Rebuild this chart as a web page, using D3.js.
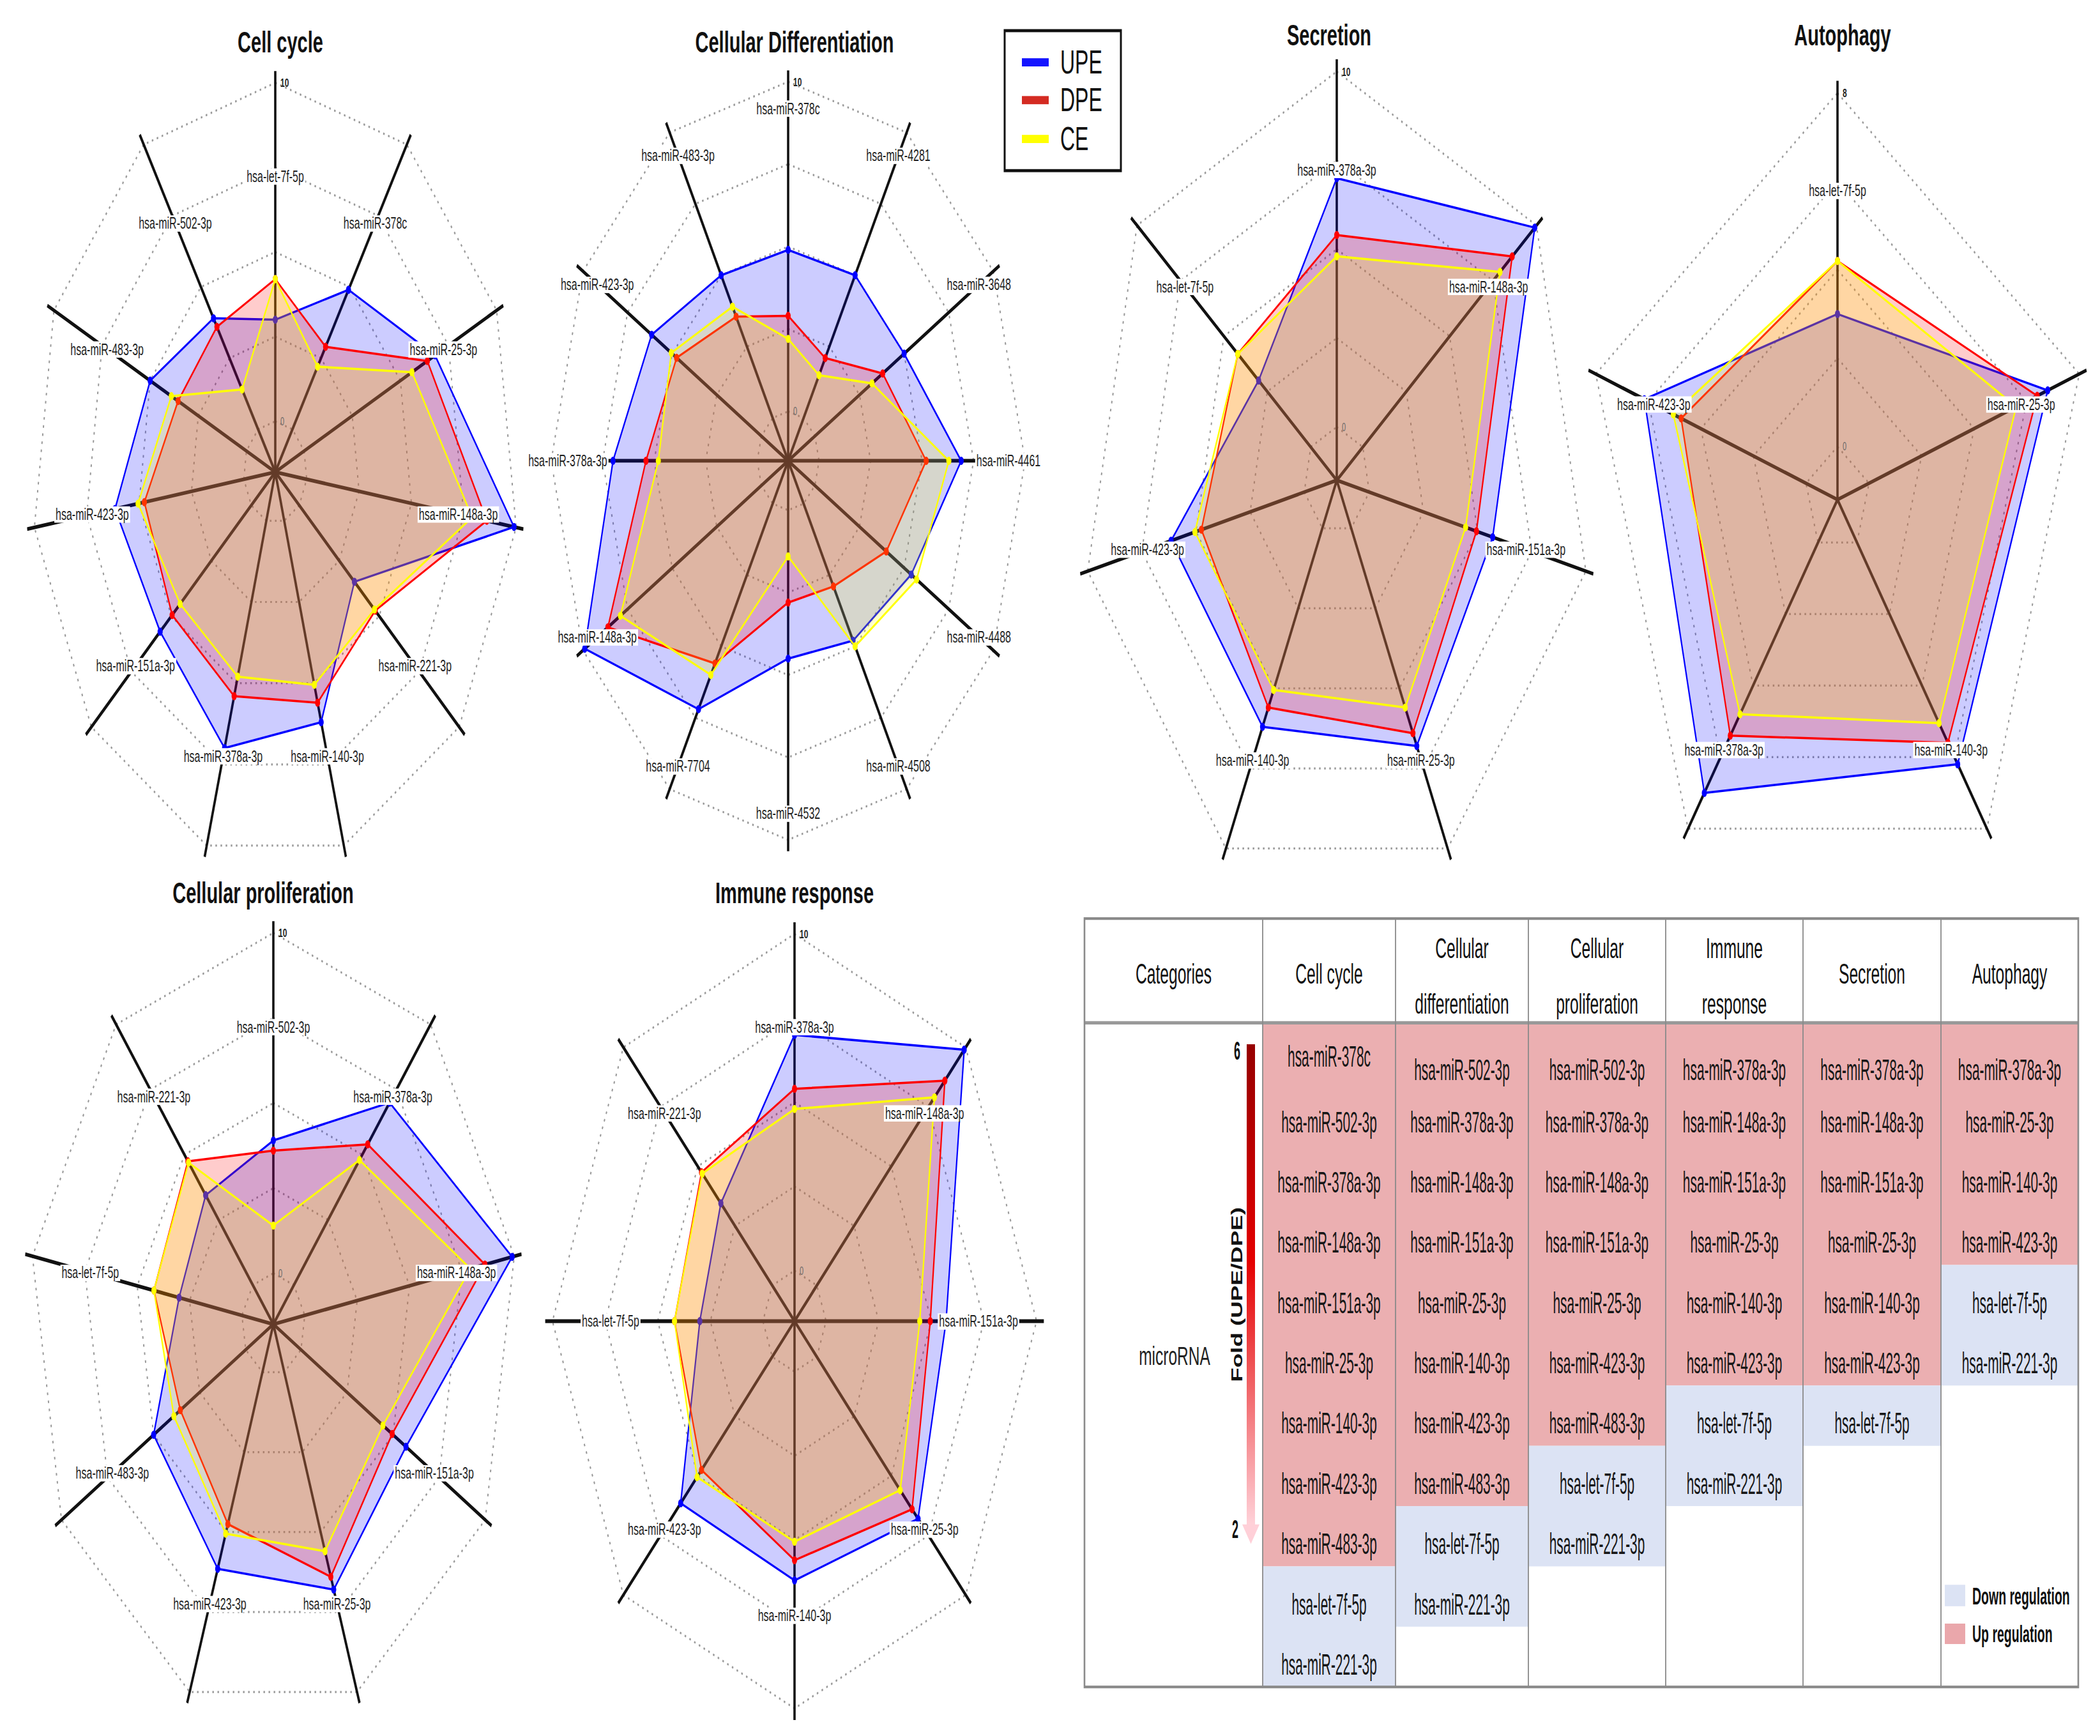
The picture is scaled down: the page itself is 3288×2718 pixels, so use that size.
<!DOCTYPE html>
<html>
<head>
<meta charset="utf-8">
<script src="https://cdn.jsdelivr.net/npm/d3@7"></script>
<style>
  html, body { margin: 0; padding: 0; background: #fff; }
  svg { display: block; font-family: "Liberation Sans", Arial, sans-serif; }
</style>
</head>
<body>
<div id="chart"></div>
<script>
// ---- data ----
const series = ['UPE', 'DPE', 'CE'];
const seriesColors = ['#0000ff', '#ff0000', '#ffff00'];
const legendColors = ['#1414ff', '#d42b22', '#ffff00'];

const cellCycleAxes = ['hsa-let-7f-5p', 'hsa-miR-378c', 'hsa-miR-25-3p', 'hsa-miR-148a-3p', 'hsa-miR-221-3p',
  'hsa-miR-140-3p', 'hsa-miR-378a-3p', 'hsa-miR-151a-3p', 'hsa-miR-423-3p', 'hsa-miR-483-3p', 'hsa-miR-502-3p'];
const cellCycleUPE = [3.0, 4.9, 6.8, 9.9, 3.45, 6.2, 7.0, 5.7, 6.15, 5.0, 3.9];
const cellCycleDPE = [4.2, 2.9, 6.4, 8.6, 4.75, 5.6, 5.4, 4.95, 4.75, 3.55, 3.6];
const cellCycleCE = [4.2, 2.2, 5.6, 7.9, 4.7, 5.05, 4.8, 4.45, 5.05, 3.9, 1.4];

const diffAxes = ['hsa-miR-378c', 'hsa-miR-4281', 'hsa-miR-3648', 'hsa-miR-4461', 'hsa-miR-4488', 'hsa-miR-4508',
  'hsa-miR-4532', 'hsa-miR-7704', 'hsa-miR-148a-3p', 'hsa-miR-378a-3p', 'hsa-miR-423-3p', 'hsa-miR-483-3p'];
const diffUPE = [4.9, 5.0, 5.0, 6.9, 5.4, 4.8, 4.5, 7.2, 9.9, 7.0, 6.15, 5.0];
const diffDPE = [2.9, 2.1, 3.8, 5.2, 4.0, 2.9, 2.8, 5.6, 8.6, 5.4, 4.75, 3.55];
const diffCE = [2.2, 1.5, 3.2, 6.3, 5.7, 5.0, 1.4, 6.0, 7.9, 4.8, 5.05, 3.9];

const secretionAxes = ['hsa-miR-378a-3p', 'hsa-miR-148a-3p', 'hsa-miR-151a-3p', 'hsa-miR-25-3p',
  'hsa-miR-140-3p', 'hsa-miR-423-3p', 'hsa-let-7f-5p'];
const secretionUPE = [7.0, 9.9, 5.7, 6.8, 6.2, 6.15, 3.0];
const secretionDPE = [5.4, 8.6, 4.95, 6.4, 5.6, 4.75, 4.2];
const secretionCE = [4.8, 7.9, 4.45, 5.6, 5.05, 5.05, 4.2];

const autophagyAxes = ['hsa-let-7f-5p', 'hsa-miR-25-3p', 'hsa-miR-140-3p', 'hsa-miR-378a-3p', 'hsa-miR-423-3p'];
const autophagyUPE = [3.0, 6.8, 6.2, 7.0, 6.15];
const autophagyDPE = [4.2, 6.4, 5.6, 5.4, 4.75];
const autophagyCE = [4.2, 5.6, 5.05, 4.8, 5.05];

const prolifAxes = ['hsa-miR-502-3p', 'hsa-miR-378a-3p', 'hsa-miR-148a-3p', 'hsa-miR-151a-3p', 'hsa-miR-25-3p',
  'hsa-miR-423-3p', 'hsa-miR-483-3p', 'hsa-let-7f-5p', 'hsa-miR-221-3p'];
const prolifUPE = [3.9, 7.0, 9.9, 5.7, 6.8, 6.15, 5.0, 3.0, 3.45];
const prolifDPE = [3.6, 5.4, 8.6, 4.95, 6.4, 4.75, 3.55, 4.2, 4.75];
const prolifCE = [1.4, 4.8, 7.9, 4.45, 5.6, 5.05, 3.9, 4.2, 4.7];

const immuneAxes = ['hsa-miR-378a-3p', 'hsa-miR-148a-3p', 'hsa-miR-151a-3p', 'hsa-miR-25-3p',
  'hsa-miR-140-3p', 'hsa-miR-423-3p', 'hsa-let-7f-5p', 'hsa-miR-221-3p'];
const immuneUPE = [7.0, 9.9, 5.7, 6.8, 6.2, 6.15, 3.0, 3.45];
const immuneDPE = [5.4, 8.6, 4.95, 6.4, 5.6, 4.75, 4.2, 4.75];
const immuneCE = [4.8, 7.9, 4.45, 5.6, 5.05, 5.05, 4.2, 4.7];

// table
const tableHeaders = [['Categories'], ['Cell cycle'], ['Cellular', 'differentiation'], ['Cellular', 'proliferation'],
  ['Immune', 'response'], ['Secretion'], ['Autophagy']];
const upCellCycle = ['hsa-miR-378c', 'hsa-miR-502-3p', 'hsa-miR-378a-3p', 'hsa-miR-148a-3p', 'hsa-miR-151a-3p',
  'hsa-miR-25-3p', 'hsa-miR-140-3p', 'hsa-miR-423-3p', 'hsa-miR-483-3p'];
const downCellCycle = ['hsa-let-7f-5p', 'hsa-miR-221-3p'];
const upDiff = ['hsa-miR-502-3p', 'hsa-miR-378a-3p', 'hsa-miR-148a-3p', 'hsa-miR-151a-3p', 'hsa-miR-25-3p',
  'hsa-miR-140-3p', 'hsa-miR-423-3p', 'hsa-miR-483-3p'];
const downDiff = ['hsa-let-7f-5p', 'hsa-miR-221-3p'];
const upProlif = ['hsa-miR-502-3p', 'hsa-miR-378a-3p', 'hsa-miR-148a-3p', 'hsa-miR-151a-3p', 'hsa-miR-25-3p',
  'hsa-miR-423-3p', 'hsa-miR-483-3p'];
const downProlif = ['hsa-let-7f-5p', 'hsa-miR-221-3p'];
const upImmune = ['hsa-miR-378a-3p', 'hsa-miR-148a-3p', 'hsa-miR-151a-3p', 'hsa-miR-25-3p', 'hsa-miR-140-3p', 'hsa-miR-423-3p'];
const downImmune = ['hsa-let-7f-5p', 'hsa-miR-221-3p'];
const upSecretion = ['hsa-miR-378a-3p', 'hsa-miR-148a-3p', 'hsa-miR-151a-3p', 'hsa-miR-25-3p', 'hsa-miR-140-3p', 'hsa-miR-423-3p'];
const downSecretion = ['hsa-let-7f-5p'];
const upAutophagy = ['hsa-miR-378a-3p', 'hsa-miR-25-3p', 'hsa-miR-140-3p', 'hsa-miR-423-3p'];
const downAutophagy = ['hsa-let-7f-5p', 'hsa-miR-221-3p'];

// ---- layout ----
// drawn in an unstretched space, then stretched vertically like the reference
const W = 3288, H = 2718, VH = 1699;

const svg = d3.select('#chart')
  .append('svg')
  .attr('width', W)
  .attr('height', H)
  .attr('viewBox', `0 0 ${W} ${VH}`)
  .attr('preserveAspectRatio', 'none');

const charts = [
  { title: 'Cell cycle', axes: cellCycleAxes, values: [cellCycleUPE, cellCycleDPE, cellCycleCE],
    cx: 431, cy: 462, R: 381, max: 10, labelR: 0.76, tx: 439, ty: 51 },
  { title: 'Cellular Differentiation', axes: diffAxes, values: [diffUPE, diffDPE, diffCE],
    cx: 1234, cy: 451, R: 371, max: 10, labelR: 0.93, tx: 1244, ty: 51 },
  { title: 'Secretion', axes: secretionAxes, values: [secretionUPE, secretionDPE, secretionCE],
    cx: 2093, cy: 470, R: 400, max: 10, labelR: 0.76, tx: 2081, ty: 44.5 },
  { title: 'Autophagy', axes: autophagyAxes, values: [autophagyUPE, autophagyDPE, autophagyCE],
    cx: 2877, cy: 489, R: 398, max: 8, labelR: 0.76, tx: 2885, ty: 44.5 },
  { title: 'Cellular proliferation', axes: prolifAxes, values: [prolifUPE, prolifDPE, prolifCE],
    cx: 428, cy: 1296, R: 383, max: 10, labelR: 0.76, tx: 412, ty: 884 },
  { title: 'Immune response', axes: immuneAxes, values: [immuneUPE, immuneDPE, immuneCE],
    cx: 1244, cy: 1293, R: 379, max: 10, labelR: 0.76, tx: 1244, ty: 884 },
];

function drawRadar(cfg) {
  const g = svg.append('g').attr('transform', `translate(${cfg.cx},${cfg.cy})`);
  const n = cfg.axes.length;
  const step = (2 * Math.PI) / n;
  const r = d3.scaleLinear().domain([-0.15 * cfg.max, cfg.max]).range([0, cfg.R]);
  const rings = d3.range(5).map((i) => (i * cfg.max) / 4);

  const radial = d3
    .lineRadial()
    .angle((d, i) => i * step)
    .radius((d) => r(d))
    .curve(d3.curveLinearClosed);

  g.selectAll('.ring')
    .data(rings)
    .join('path')
    .attr('class', 'ring')
    .attr('d', (v) => radial(cfg.axes.map(() => v)))
    .attr('fill', 'none')
    .attr('stroke', '#9a9a9a')
    .attr('stroke-width', 2)
    .attr('stroke-dasharray', '2.5 5.5');

  g.selectAll('.spoke')
    .data(cfg.axes)
    .join('line')
    .attr('class', 'spoke')
    .attr('x1', 0)
    .attr('y1', 0)
    .attr('x2', (d, i) => d3.pointRadial(i * step, cfg.R * 1.03)[0])
    .attr('y2', (d, i) => d3.pointRadial(i * step, cfg.R * 1.03)[1])
    .attr('stroke', '#111')
    .attr('stroke-width', 3.6);

  cfg.values.forEach((vals, s) => {
    g.append('path')
      .attr('d', radial(vals))
      .attr('fill', seriesColors[s])
      .attr('fill-opacity', 0.2)
      .attr('stroke', seriesColors[s])
      .attr('stroke-width', 2.2)
      .attr('stroke-linejoin', 'round');

    g.selectAll('.dot-' + s)
      .data(vals)
      .join('circle')
      .attr('class', 'dot-' + s)
      .attr('cx', (d, i) => d3.pointRadial(i * step, r(d))[0])
      .attr('cy', (d, i) => d3.pointRadial(i * step, r(d))[1])
      .attr('r', 4)
      .attr('fill', seriesColors[s]);
  });

  // axis labels with white boxes
  const labels = g.selectAll('.lab')
    .data(cfg.axes)
    .join('g')
    .attr('class', 'lab')
    .attr('transform', (d, i) => {
      const [x, y] = d3.pointRadial(i * step, cfg.R * cfg.labelR);
      return `translate(${x},${y})`;
    });

  labels.append('text')
    .attr('text-anchor', 'middle')
    .attr('dy', '0.35em')
    .attr('font-size', 16)
    .attr('fill', '#1e1e1e')
    .text((d) => d);

  labels.each(function () {
    const t = d3.select(this).select('text');
    const b = t.node().getBBox();
    d3.select(this)
      .insert('rect', 'text')
      .attr('x', b.x - 2)
      .attr('y', b.y + 1)
      .attr('width', b.width + 4)
      .attr('height', b.height - 2)
      .attr('fill', '#fff');
  });

  g.append('text')
    .attr('x', 8)
    .attr('y', -r(cfg.max))
    .attr('dy', '0.35em')
    .attr('font-size', 12)
    .attr('font-weight', 'bold')
    .attr('fill', '#222')
    .text(cfg.max);

  g.append('text')
    .attr('x', 8)
    .attr('y', -r(0))
    .attr('dy', '0.35em')
    .attr('font-size', 11)
    .attr('fill', '#666')
    .text('0');

  svg.append('text')
    .attr('x', cfg.tx)
    .attr('y', cfg.ty)
    .attr('text-anchor', 'middle')
    .attr('font-size', 29)
    .attr('font-weight', 'bold')
    .attr('fill', '#111')
    .text(cfg.title);
}

charts.forEach(drawRadar);

// ---- legend ----
const legend = svg.append('g');
legend.append('rect')
  .attr('x', 1573).attr('y', 30).attr('width', 182).attr('height', 137)
  .attr('fill', '#fff').attr('stroke', '#111').attr('stroke-width', 3);

const legendY = [61, 98, 136];
series.forEach((name, i) => {
  legend.append('rect')
    .attr('x', 1600).attr('y', legendY[i] - 4).attr('width', 42).attr('height', 8)
    .attr('fill', legendColors[i]);
  legend.append('text')
    .attr('x', 1660).attr('y', legendY[i] + 11)
    .attr('font-size', 32)
    .attr('fill', '#111')
    .text(name);
});

// ---- table ----
const colX = [1698, 1977, 2185, 2393, 2608, 2823, 3039, 3254];
const tableTop = 899, headerBottom = 1001, bodyTop = 1002, tableBottom = 1651;
const rowH = (tableBottom - bodyTop) / 11;
const upColor = '#ebafb1', downColor = '#dce3f4';

const columns = [
  [upCellCycle, downCellCycle],
  [upDiff, downDiff],
  [upProlif, downProlif],
  [upImmune, downImmune],
  [upSecretion, downSecretion],
  [upAutophagy, downAutophagy],
];

const table = svg.append('g');

function squeezed(sel, x, y, sx) {
  return sel.attr('transform', `translate(${x},${y}) scale(${sx},1)`);
}

columns.forEach(([up, down], c) => {
  const x0 = colX[c + 1], x1 = colX[c + 2];
  const mid = (x0 + x1) / 2;

  table.append('rect')
    .attr('x', x0).attr('y', bodyTop)
    .attr('width', x1 - x0).attr('height', up.length * rowH)
    .attr('fill', upColor);
  table.append('rect')
    .attr('x', x0).attr('y', bodyTop + up.length * rowH)
    .attr('width', x1 - x0).attr('height', down.length * rowH)
    .attr('fill', downColor);

  up.concat(down).forEach((name, i) => {
    let base = bodyTop + i * rowH + 47;
    if (i === 0) base = c === 0 ? bodyTop + 42 : bodyTop + 55;
    squeezed(table.append('text'), mid, base, 0.72)
      .attr('text-anchor', 'middle')
      .attr('font-size', 29)
      .attr('fill', '#161616')
      .text(name);
  });
});

// headers
tableHeaders.forEach((lines, c) => {
  const mid = (colX[c] + colX[c + 1]) / 2;
  const bases = lines.length === 1 ? [962.5] : [937.5, 992];
  lines.forEach((t, k) => {
    squeezed(table.append('text'), mid, bases[k], 0.88)
      .attr('text-anchor', 'middle')
      .attr('font-size', 28)
      .attr('fill', '#111')
      .text(t);
  });
});

// grid lines
table.append('line')
  .attr('x1', colX[0]).attr('x2', colX[7])
  .attr('y1', headerBottom).attr('y2', headerBottom)
  .attr('stroke', '#999').attr('stroke-width', 3.2);
colX.slice(1, 7).forEach((x) => {
  table.append('line')
    .attr('x1', x).attr('x2', x)
    .attr('y1', tableTop).attr('y2', tableBottom)
    .attr('stroke', '#8a8a8a').attr('stroke-width', 1.8);
});
table.append('rect')
  .attr('x', colX[0]).attr('y', tableTop)
  .attr('width', colX[7] - colX[0]).attr('height', tableBottom - tableTop)
  .attr('fill', 'none').attr('stroke', '#8a8a8a').attr('stroke-width', 2.6);

// categories column
squeezed(table.append('text'), 1839, 1336, 0.98)
  .attr('text-anchor', 'middle')
  .attr('font-size', 25)
  .attr('fill', '#222')
  .text('microRNA');

const grad = svg.append('defs').append('linearGradient')
  .attr('id', 'fold').attr('x1', 0).attr('x2', 0).attr('y1', 0).attr('y2', 1);
grad.append('stop').attr('offset', '0%').attr('stop-color', '#960000');
grad.append('stop').attr('offset', '45%').attr('stop-color', '#e40000');
grad.append('stop').attr('offset', '100%').attr('stop-color', '#ffd3da');

table.append('rect')
  .attr('x', 1952).attr('y', 1022).attr('width', 13).attr('height', 472)
  .attr('fill', 'url(#fold)');
table.append('path')
  .attr('d', 'M1945,1492 L1972,1492 L1958.5,1511 Z')
  .attr('fill', '#ffd0d8');

squeezed(table.append('text'), 1937, 1037, 0.72)
  .attr('text-anchor', 'middle').attr('font-size', 25).attr('font-weight', 'bold')
  .attr('fill', '#111').text('6');
squeezed(table.append('text'), 1934, 1505, 0.72)
  .attr('text-anchor', 'middle').attr('font-size', 25).attr('font-weight', 'bold')
  .attr('fill', '#111').text('2');

table.append('text')
  .attr('transform', 'translate(1937,1267) rotate(-90)')
  .attr('text-anchor', 'middle')
  .attr('dy', '0.35em')
  .attr('font-size', 23)
  .attr('font-weight', 'bold')
  .attr('fill', '#111')
  .text('Fold (UPE/DPE)');

// regulation legend
table.append('rect').attr('x', 3045).attr('y', 1551).attr('width', 32).attr('height', 21).attr('fill', downColor);
table.append('rect').attr('x', 3045).attr('y', 1589).attr('width', 32).attr('height', 20).attr('fill', '#eaa7ab');
squeezed(table.append('text'), 3088, 1570, 0.83)
  .attr('font-size', 23.5).attr('font-weight', 'bold').attr('fill', '#111').text('Down regulation');
squeezed(table.append('text'), 3088, 1607, 0.83)
  .attr('font-size', 23.5).attr('font-weight', 'bold').attr('fill', '#111').text('Up regulation');
</script>
</body>
</html>
